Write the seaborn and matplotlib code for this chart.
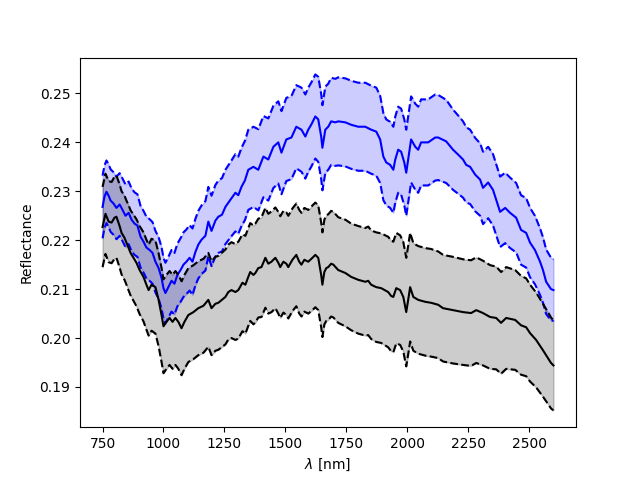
import numpy as np
import matplotlib
matplotlib.use("Agg")
import matplotlib.pyplot as plt
import seaborn as sns

# Blue spectrum: wavelength [nm], mean reflectance, standard deviation
blue_wl = [750, 758, 766, 775, 783, 795, 807, 820, 832, 844,
           857, 869, 881, 893, 906, 918, 930, 943, 955, 967,
           980, 992, 1000, 1008, 1020, 1033, 1045, 1057, 1070, 1082,
           1094, 1107, 1119, 1131, 1143, 1156, 1172, 1184, 1197, 1213,
           1225, 1240, 1254, 1275, 1295, 1307, 1320, 1334, 1348, 1369,
           1389, 1410, 1430, 1451, 1471, 1484, 1504, 1525, 1545, 1566,
           1582, 1594, 1606, 1623, 1635, 1647, 1652, 1664, 1676, 1688,
           1705, 1717, 1746, 1770, 1799, 1828, 1852, 1873, 1889, 1902,
           1914, 1930, 1943, 1951, 1963, 1975, 1988, 1996, 2008, 2016,
           2033, 2045, 2057, 2086, 2115, 2127, 2160, 2188, 2209, 2229,
           2242, 2258, 2279, 2299, 2311, 2332, 2352, 2381, 2402, 2422,
           2447, 2467, 2488, 2504, 2524, 2545, 2557, 2570, 2590, 2600]
blue_mean = [0.2268, 0.2289, 0.2299, 0.2291, 0.2281, 0.2275, 0.2266, 0.2273, 0.2262, 0.2250,
             0.2256, 0.2242, 0.2234, 0.2230, 0.2207, 0.2197, 0.2185, 0.2180, 0.2174, 0.2156,
             0.2143, 0.2123, 0.2102, 0.2092, 0.2104, 0.2117, 0.2111, 0.2129, 0.2139, 0.2150,
             0.2156, 0.2164, 0.2156, 0.2176, 0.2191, 0.2201, 0.2209, 0.2238, 0.2219, 0.2240,
             0.2248, 0.2252, 0.2268, 0.2283, 0.2297, 0.2292, 0.2309, 0.2322, 0.2344, 0.2350,
             0.2344, 0.2371, 0.2365, 0.2391, 0.2400, 0.2379, 0.2406, 0.2410, 0.2432, 0.2426,
             0.2412, 0.2426, 0.2436, 0.2453, 0.2447, 0.2412, 0.2389, 0.2426, 0.2432, 0.2443,
             0.2441, 0.2443, 0.2441, 0.2436, 0.2432, 0.2432, 0.2426, 0.2422, 0.2406, 0.2371,
             0.2359, 0.2354, 0.2344, 0.2365, 0.2385, 0.2381, 0.2359, 0.2338, 0.2379, 0.2406,
             0.2391, 0.2385, 0.2400, 0.2400, 0.2410, 0.2410, 0.2402, 0.2385, 0.2375, 0.2365,
             0.2354, 0.2350, 0.2334, 0.2324, 0.2307, 0.2318, 0.2303, 0.2258, 0.2266, 0.2256,
             0.2246, 0.2221, 0.2215, 0.2195, 0.2180, 0.2156, 0.2139, 0.2115, 0.2100, 0.2098]
blue_std = [0.0064, 0.0064, 0.0064, 0.0064, 0.0064, 0.0064, 0.0064, 0.0064, 0.0064, 0.0064,
            0.0064, 0.0064, 0.0064, 0.0064, 0.0063, 0.0063, 0.0063, 0.0063, 0.0063, 0.0063,
            0.0063, 0.0063, 0.0062, 0.0062, 0.0062, 0.0063, 0.0063, 0.0064, 0.0065, 0.0066,
            0.0066, 0.0067, 0.0068, 0.0068, 0.0069, 0.0070, 0.0071, 0.0071, 0.0072, 0.0073,
            0.0074, 0.0075, 0.0076, 0.0077, 0.0079, 0.0079, 0.0080, 0.0081, 0.0082, 0.0082,
            0.0083, 0.0083, 0.0084, 0.0084, 0.0084, 0.0085, 0.0085, 0.0085, 0.0085, 0.0086,
            0.0086, 0.0086, 0.0086, 0.0086, 0.0087, 0.0087, 0.0087, 0.0088, 0.0088, 0.0089,
            0.0089, 0.0090, 0.0090, 0.0090, 0.0090, 0.0090, 0.0090, 0.0090, 0.0089, 0.0089,
            0.0088, 0.0088, 0.0088, 0.0088, 0.0088, 0.0088, 0.0088, 0.0088, 0.0088, 0.0088,
            0.0088, 0.0088, 0.0088, 0.0088, 0.0088, 0.0087, 0.0085, 0.0082, 0.0080, 0.0078,
            0.0077, 0.0076, 0.0075, 0.0074, 0.0074, 0.0073, 0.0073, 0.0072, 0.0072, 0.0072,
            0.0071, 0.0071, 0.0071, 0.0071, 0.0070, 0.0068, 0.0067, 0.0066, 0.0064, 0.0063]

# Black spectrum
black_wl = [750, 762, 775, 787, 799, 807, 820, 828, 840, 848,
            857, 865, 877, 889, 902, 918, 930, 939, 951, 967,
            980, 992, 1000, 1012, 1025, 1037, 1049, 1061, 1074, 1086,
            1102, 1123, 1143, 1164, 1184, 1197, 1213, 1225, 1254, 1266,
            1279, 1295, 1307, 1324, 1336, 1348, 1356, 1369, 1377, 1389,
            1402, 1418, 1430, 1443, 1459, 1471, 1479, 1492, 1504, 1512,
            1529, 1545, 1557, 1566, 1578, 1594, 1611, 1623, 1635, 1647,
            1652, 1660, 1668, 1676, 1688, 1697, 1717, 1746, 1770, 1799,
            1828, 1840, 1852, 1873, 1893, 1922, 1934, 1943, 1955, 1971,
            1984, 1996, 2004, 2012, 2025, 2045, 2074, 2098, 2127, 2147,
            2188, 2229, 2262, 2283, 2311, 2340, 2365, 2385, 2406, 2443,
            2467, 2488, 2504, 2529, 2557, 2590, 2600]
black_mean = [0.2227, 0.2254, 0.2238, 0.2236, 0.2246, 0.2248, 0.2229, 0.2215, 0.2205, 0.2195,
              0.2184, 0.2174, 0.2164, 0.2154, 0.2139, 0.2125, 0.2109, 0.2098, 0.2109, 0.2104,
              0.2078, 0.2047, 0.2024, 0.2033, 0.2041, 0.2033, 0.2041, 0.2033, 0.2020, 0.2033,
              0.2047, 0.2053, 0.2061, 0.2066, 0.2078, 0.2061, 0.2070, 0.2072, 0.2084, 0.2094,
              0.2098, 0.2094, 0.2098, 0.2113, 0.2109, 0.2125, 0.2135, 0.2129, 0.2133, 0.2143,
              0.2145, 0.2164, 0.2152, 0.2156, 0.2164, 0.2154, 0.2145, 0.2156, 0.2152, 0.2145,
              0.2160, 0.2170, 0.2156, 0.2150, 0.2160, 0.2156, 0.2164, 0.2170, 0.2164, 0.2129,
              0.2109, 0.2135, 0.2143, 0.2145, 0.2152, 0.2150, 0.2139, 0.2133, 0.2125, 0.2119,
              0.2115, 0.2117, 0.2109, 0.2104, 0.2102, 0.2094, 0.2086, 0.2084, 0.2102, 0.2098,
              0.2084, 0.2053, 0.2078, 0.2104, 0.2084, 0.2078, 0.2074, 0.2072, 0.2068, 0.2061,
              0.2057, 0.2053, 0.2051, 0.2057, 0.2051, 0.2043, 0.2041, 0.2031, 0.2041, 0.2037,
              0.2026, 0.2022, 0.2010, 0.1996, 0.1975, 0.1949, 0.1944]
black_std = [0.0082, 0.0082, 0.0083, 0.0083, 0.0084, 0.0084, 0.0085, 0.0085, 0.0086, 0.0086,
             0.0087, 0.0087, 0.0088, 0.0089, 0.0090, 0.0091, 0.0092, 0.0093, 0.0094, 0.0095,
             0.0095, 0.0096, 0.0096, 0.0096, 0.0096, 0.0096, 0.0096, 0.0096, 0.0096, 0.0096,
             0.0096, 0.0096, 0.0096, 0.0096, 0.0096, 0.0096, 0.0096, 0.0096, 0.0097, 0.0097,
             0.0098, 0.0098, 0.0099, 0.0099, 0.0100, 0.0100, 0.0100, 0.0101, 0.0101, 0.0101,
             0.0102, 0.0102, 0.0102, 0.0103, 0.0103, 0.0104, 0.0104, 0.0104, 0.0105, 0.0105,
             0.0105, 0.0105, 0.0106, 0.0106, 0.0106, 0.0106, 0.0107, 0.0107, 0.0107, 0.0107,
             0.0107, 0.0107, 0.0108, 0.0108, 0.0108, 0.0108, 0.0108, 0.0109, 0.0109, 0.0110,
             0.0110, 0.0111, 0.0111, 0.0112, 0.0112, 0.0113, 0.0113, 0.0113, 0.0113, 0.0112,
             0.0112, 0.0111, 0.0111, 0.0111, 0.0110, 0.0110, 0.0110, 0.0110, 0.0109, 0.0109,
             0.0109, 0.0108, 0.0108, 0.0108, 0.0107, 0.0106, 0.0105, 0.0104, 0.0104, 0.0102,
             0.0101, 0.0100, 0.0099, 0.0097, 0.0095, 0.0093, 0.0092]


def plot_spectrum(ax, wl, mean, std, color):
    mean = np.array(mean)
    std = np.array(std)
    upper = mean + std
    lower = mean - std
    sns.lineplot(x=wl, y=mean, color=color, ax=ax, estimator=None)
    sns.lineplot(x=wl, y=upper, color=color, linestyle="--", ax=ax, estimator=None)
    sns.lineplot(x=wl, y=lower, color=color, linestyle="--", ax=ax, estimator=None)
    ax.fill_between(wl, lower, upper, color=color, alpha=0.2)


fig, ax = plt.subplots(figsize=(6.4, 4.8), dpi=100)
plot_spectrum(ax, blue_wl, blue_mean, blue_std, "b")
plot_spectrum(ax, black_wl, black_mean, black_std, "k")

ax.set_xlabel(r"$\lambda$ [nm]")
ax.set_ylabel("Reflectance")

fig.savefig("out.png")
